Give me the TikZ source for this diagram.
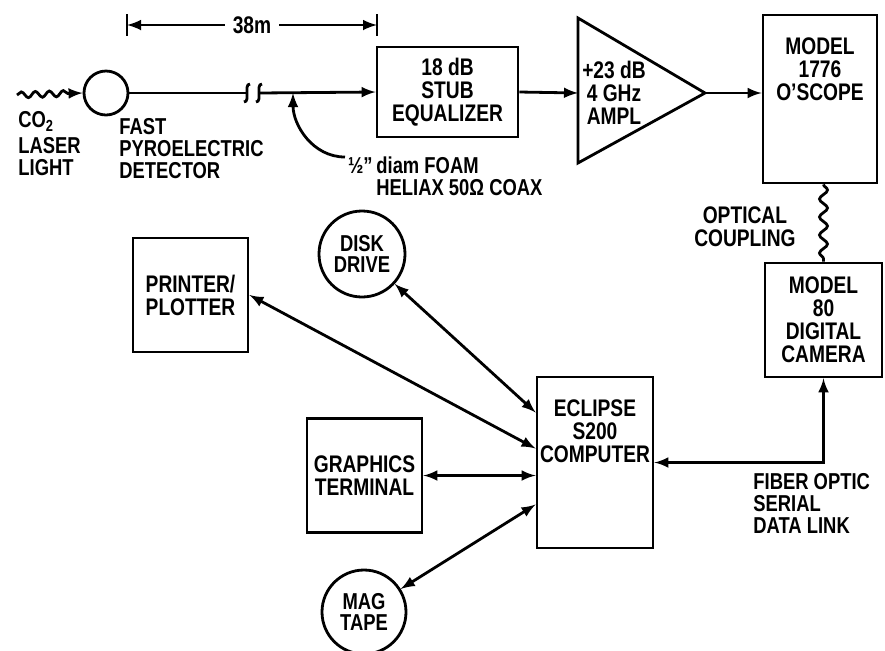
\documentclass[tikz,border=0pt]{standalone}
\usepackage{fontspec}
\setmainfont{Liberation Sans}[FakeStretch=0.8]
\usepackage{tikz}
\usetikzlibrary{arrows,positioning,calc,decorations.pathmorphing}

\begin{document}
\begin{tikzpicture}[x=0.5pt, y=0.5pt, >=latex, line width=1.4pt,
    every node/.style={font=\fontsize{12}{11.5}\selectfont\bfseries, align=center, inner sep=0pt},
    blk/.style={draw, minimum width=57.5pt, minimum height=57pt},
    unit/.style={draw, circle, minimum size=43pt, font=\fontsize{11.5}{10.8}\selectfont\bfseries},
    lbl/.style={align=left, font=\fontsize{11.5}{11}\selectfont\bfseries},
    wave/.style={decorate, decoration={snake, amplitude=2pt, segment length=9pt}}]
    \useasboundingbox (0,0) rectangle (885,-650);

    % detector end
    \node[draw, circle, minimum size=22pt] (det) at (106,-93) {};
    \coordinate (laser) at (17,-95);
    \draw[->, decorate, decoration={snake, amplitude=1.5pt, segment length=7pt, post length=5pt}] (laser) -- (det.west);
    \node[lbl, anchor=north west] (laserlbl) at (17,-110) {CO\textsubscript{2}\\[2pt]LASER\\LIGHT};
    \node[lbl, anchor=north west] (detlbl) at (118,-117) {FAST\\PYROELECTRIC\\DETECTOR};

    % 38 m run of coax
    \coordinate (dimL) at (127,-25);
    \coordinate (dimR) at (377,-25);
    \draw ([yshift=5.5pt]dimL) -- ([yshift=-5.5pt]dimL);
    \draw ([yshift=5.5pt]dimR) -- ([yshift=-5.5pt]dimR);
    \draw[<->] (dimL) -- node[fill=white, inner xsep=4pt] (dimtxt) {38m} (dimR);

    \node[blk, minimum width=70.5pt, minimum height=45pt] (eq) at (447.5,-92) {18 dB\\STUB\\EQUALIZER};
    \coordinate (brkA) at (247,-93);
    \coordinate (brkB) at (259,-93);
    \coordinate (tap) at (293,-93);
    \draw (det.east) -- (brkA);
    \draw ($(brkA)+(-3,-9)$) to[out=0,in=-90] (brkA) to[out=90,in=180] ($(brkA)+(3,9)$);
    \draw ($(brkB)+(-3,-9)$) to[out=0,in=-90] (brkB) to[out=90,in=180] ($(brkB)+(3,9)$);
    \draw[->] (brkB) -- (eq.west);

    \node[lbl, anchor=north west] (coaxlbl) at (375,-155) {\llap{½"\,}diam FOAM\\HELIAX 50Ω COAX};
    \coordinate (coaxend) at (345,-157);
    \draw[->] (coaxend) to[out=180, in=-90] (tap);

    % amplifier and scope
    \draw (578,-18) coordinate (ampTop) -- (705,-93) coordinate (ampOut) -- (578,-163) coordinate (ampBot) -- cycle;
    \coordinate (ampIn) at (578,-93);
    \node (amptxt) at (614,-93) {+23 dB\\4 GHz\\AMPL};
    \draw[->] (eq.east) -- (ampIn);

    \node[blk, minimum width=57pt, minimum height=84pt] (osc) at (820,-99) {};
    \node[below=11.5pt of osc.north] (osctxt) {MODEL\\1776\\O'SCOPE};
    \draw[->] (ampOut) -- (osc.west |- ampOut);

    \node[blk, minimum width=58.5pt, minimum height=57pt] (cam) at (823.5,-320) {MODEL\\80\\DIGITAL\\CAMERA};
    \draw[wave] (cam.north |- osc.south) -- (cam.north);
    \node[anchor=north east] (optlbl) at (797,-205) {OPTICAL\\COUPLING};

    % computer and peripherals
    \node[blk, minimum width=58pt, minimum height=85.5pt] (comp) at (595,-462.5) {};
    \node[below=11.5pt of comp.north] (comptxt) {ECLIPSE\\S200\\COMPUTER};
    \draw[<->] (comp.east) -- (comp.east -| cam.south) -- (cam.south);
    \node[lbl, anchor=north west] (fiblbl) at (752,-472) {FIBER OPTIC\\SERIAL\\DATA LINK};

    \node[blk] (prn) at (190.5,-295) {PRINTER/\\PLOTTER};
    \node[unit] (disk) at (362,-254) {DISK\\DRIVE};
    \node[blk] (gfx) at (364.5,-475.5) {GRAPHICS\\TERMINAL};
    \node[unit, minimum size=42pt] (mag) at (364,-612) {MAG\\TAPE};

    \draw[<->] (prn.east) -- ([yshift=7pt]comp.west);
    \draw[<->] (disk) -- ([yshift=25pt]comp.west);
    \draw[<->] (gfx.east) -- (gfx.east -| comp.west);
    \draw[<->] (mag) -- ([yshift=-21pt]comp.west);
\end{tikzpicture}
\end{document}
